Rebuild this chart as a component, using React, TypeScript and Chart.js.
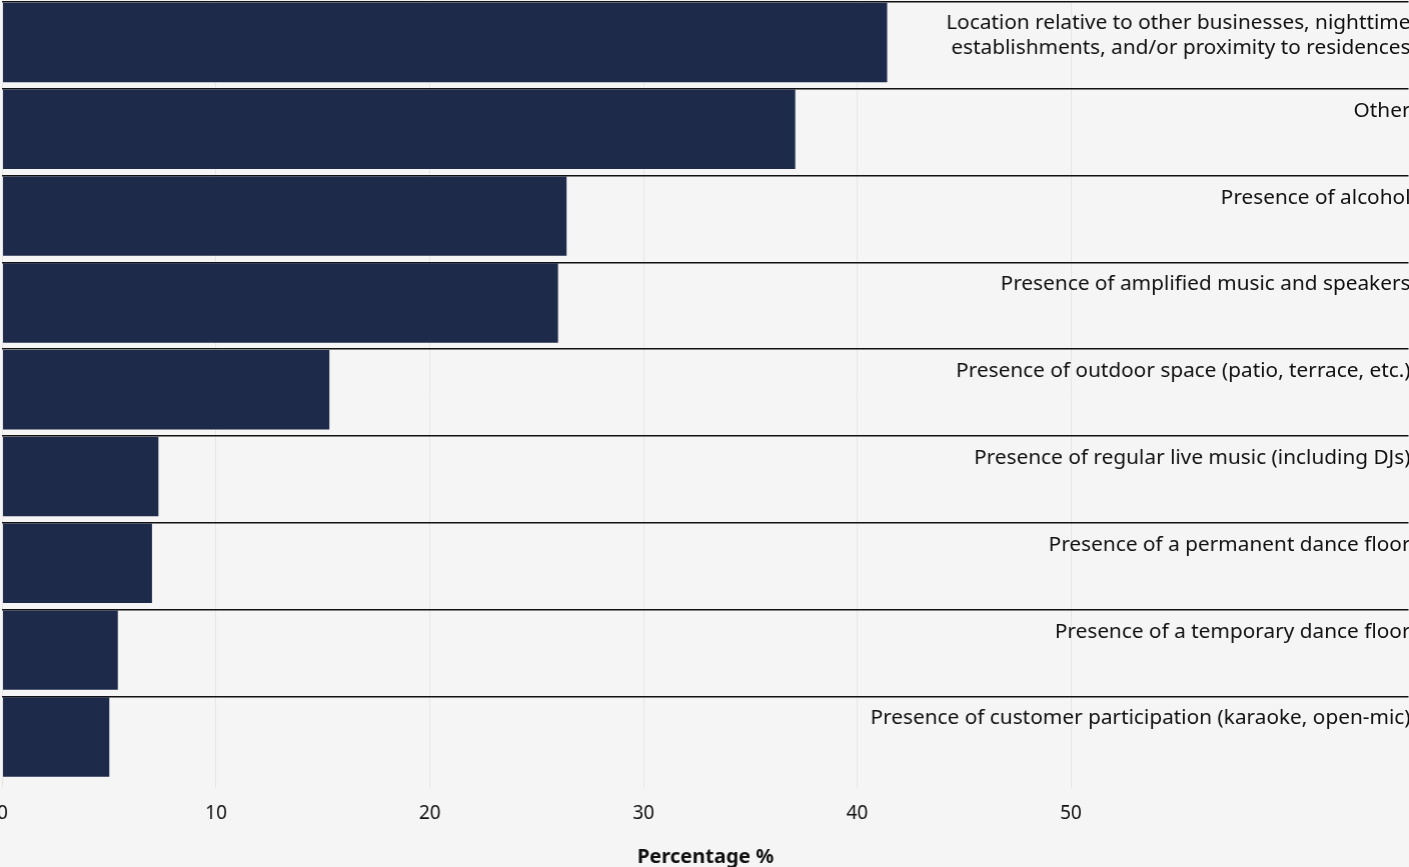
import { useEffect, useRef } from "react";
import { Chart, registerables } from "chart.js";

Chart.register(...registerables);

const categories: (string | string[])[] = [
  ["Location relative to other businesses, nighttime", "establishments, and/or proximity to residences"],
  "Other",
  "Presence of alcohol",
  "Presence of amplified music and speakers",
  "Presence of outdoor space (patio, terrace, etc.)",
  "Presence of regular live music (including DJs)",
  "Presence of a permanent dance floor",
  "Presence of a temporary dance floor",
  "Presence of customer participation (karaoke, open-mic)",
];

const values = [41.4, 37.1, 26.4, 26.0, 15.3, 7.3, 7.0, 5.4, 5.0];

const xTickValues = [0, 10, 20, 30, 40, 50];

const X_MAX = 65.8;
const BAND_SHIFT = 0.467;
const FONT = "'Noto Sans'";

export default function App() {
  const ref = useRef<HTMLCanvasElement>(null);

  useEffect(() => {
    if (!ref.current) return;

    const labelsPlugin = {
      id: "bandLabels",
      afterDatasetsDraw(chart: any) {
        const { ctx, chartArea, scales } = chart;
        const y = scales.y;
        ctx.save();
        ctx.font = `20.8px ${FONT}`;
        ctx.fillStyle = "#111111";
        ctx.textAlign = "right";
        ctx.textBaseline = "alphabetic";
        categories.forEach((c, i) => {
          const top = y.getPixelForValue(i - BAND_SHIFT);
          const lines = Array.isArray(c) ? c : [c];
          const first = lines.length > 1 ? 27 : 28;
          lines.forEach((l, j) => {
            ctx.fillText(l, chartArea.right + 2, top + first + j * 25.4);
          });
        });
        ctx.restore();
      },
    };

    const chart = new Chart(ref.current, {
      type: "bar",
      data: {
        datasets: [
          {
            data: values.map((v, i) => ({ x: v, y: i })),
            backgroundColor: "#1e2a4a",
            borderWidth: 0,
            barPercentage: 0.915,
            categoryPercentage: 1,
          },
        ],
      },
      options: {
        indexAxis: "y",
        animation: false,
        responsive: true,
        maintainAspectRatio: false,
        layout: { padding: { top: 2, right: 5, left: 0, bottom: 0 } },
        plugins: {
          legend: { display: false },
          tooltip: { enabled: false },
        },
        scales: {
          x: {
            type: "linear",
            min: 0,
            max: X_MAX,
            border: { display: false },
            grid: {
              color: "#e6e6e6",
              lineWidth: 1,
              tickLength: 5,
              drawTicks: true,
            },
            afterBuildTicks(scale: any) {
              scale.ticks = xTickValues.map((v) => ({ value: v }));
            },
            ticks: {
              padding: 14,
              color: "#111111",
              font: { family: FONT, size: 19 },
            },
            title: {
              display: true,
              text: "Percentage %",
              color: "#111111",
              font: { family: FONT, size: 20, weight: "bold" },
              padding: { top: 6, bottom: 0 },
            },
          },
          y: {
            type: "linear",
            reverse: true,
            offset: false,
            min: -BAND_SHIFT,
            max: categories.length - BAND_SHIFT,
            border: { display: false },
            grid: {
              offset: false,
              color: "#111111",
              lineWidth: 1.5,
              drawTicks: false,
            },
            afterBuildTicks(scale: any) {
              scale.ticks = categories.map((_, i) => ({ value: i - BAND_SHIFT }));
            },
            afterFit(scale: any) {
              scale.width = 0;
            },
            ticks: { display: false },
          },
        },
      },
      plugins: [labelsPlugin],
    });

    return () => chart.destroy();
  }, []);

  return (
    <div
      style={{
        position: "fixed",
        inset: 0,
        background: "#f5f5f5",
        overflow: "hidden",
      }}
    >
      <div style={{ position: "absolute", left: -17, top: 0, width: 1429.5, height: 869 }}>
        <canvas ref={ref} />
      </div>
    </div>
  );
}
